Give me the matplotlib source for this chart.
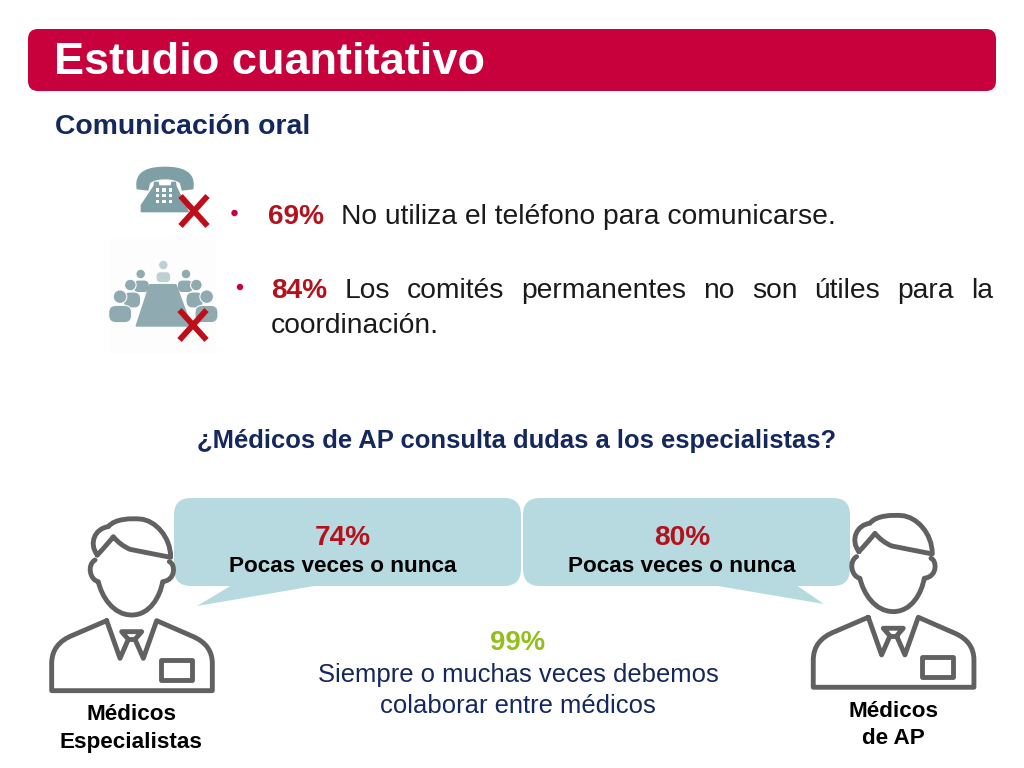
import matplotlib
matplotlib.use("Agg")
import matplotlib.pyplot as plt
from matplotlib.path import Path
from matplotlib.patches import PathPatch, FancyBboxPatch, Polygon, Rectangle, Circle

plt.rcParams['font.family'] = ['Liberation Sans', 'DejaVu Sans']

TITLE = "Estudio cuantitativo"
SUBTITLE = "Comunicación oral"
QUESTION = "¿Médicos de AP consulta dudas a los especialistas?"
PCT_PHONE = "69%"
TXT_PHONE = "No utiliza el teléfono para comunicarse."
PCT_COMM = "84%"
TXT_COMM_1 = ["Los", "comités", "permanentes", "no", "son", "útiles", "para", "la"]
TXT_COMM_2 = "coordinación."
BUBBLE_PCTS = ["74%", "80%"]
BUBBLE_TXT = "Pocas veces o nunca"
SHARED_PCT = "99%"
SHARED_TXT = ["Siempre o muchas veces debemos", "colaborar entre médicos"]
PERSON_LEFT = ["Médicos", "Especialistas"]
PERSON_RIGHT = ["Médicos", "de AP"]

CRIMSON = "#C8003C"
NAVY = "#14285E"
DKRED = "#B3121D"
XRED = "#C00D1A"
BUB = "#B7DAE0"
GREEN = "#94BF1A"
ICON = "#7F9FA6"
ICON2 = "#8FAAB0"
GREY = "#616161"
PAPER = "#FDFDFD"

fig = plt.figure(figsize=(10.24, 7.68), dpi=100)
ax = fig.add_axes([0, 0, 1, 1])
ax.set_xlim(0, 1024)
ax.set_ylim(768, 0)
ax.axis("off")


def fs(px):
    return px * 0.72


def T(x, y, s, px, color="black", weight="normal", ha="left", va="baseline"):
    return ax.text(x, y, s, fontsize=fs(px), color=color, fontweight=weight, ha=ha, va=va)


def rrect(x0, y0, x1, y1, r, color, z=1, ec="none", lw=0):
    p = FancyBboxPatch((x0 + r, y0 + r), x1 - x0 - 2 * r, y1 - y0 - 2 * r,
                       boxstyle=f"round,pad={r},rounding_size={r}",
                       fc=color, ec=ec, lw=lw, zorder=z)
    ax.add_patch(p)


# Banner
rrect(28, 29, 996, 91, 10, CRIMSON)
T(54, 74, TITLE, 45.2, "white", "bold")
T(55, 134, SUBTITLE, 28.4, NAVY, "bold")


def Z1(x, y):
    return (100 + x / 3, 150 + y / 3)


M, L, C3, C4, CL = Path.MOVETO, Path.LINETO, Path.CURVE3, Path.CURVE4, Path.CLOSEPOLY

# Phone icon
hs = [(110, 118), (100, 60), (150, 50), (195, 50), (240, 50), (290, 60), (280, 118), (245, 122),
      (240, 100), (225, 84), (165, 84), (150, 100), (145, 122), (110, 118)]
hc = [M, C4, C4, C4, C4, C4, C4, L, L, C4, C4, C4, L, L]
ax.add_patch(PathPatch(Path([Z1(*q) for q in hs], hc), fc=ICON, ec="none", zorder=2))
ax.add_patch(Polygon([Z1(160, 108), Z1(162, 95), Z1(176, 95), Z1(178, 106), Z1(212, 106), Z1(214, 95),
                      Z1(228, 95), Z1(230, 108), Z1(268, 187), Z1(122, 187), Z1(122, 165)],
                     fc=ICON, ec="none", zorder=2))
for yy in (120, 137, 155):
    for xx in (173, 192, 212):
        cx, cy = Z1(xx, yy)
        ax.add_patch(Rectangle((cx - 1.7, cy - 1.7), 3.4, 3.4, fc="white", ec="none", zorder=3))

# Committee icon
ax.add_patch(Rectangle(Z1(28, 268), 107, 115, fc=PAPER, ec="none", zorder=1))


def bust(hx, hy, r, bx0, by0, bx1, by1, col, z):
    cx, cy = Z1(hx, hy)
    a, b = Z1(bx0, by0), Z1(bx1, by1)
    rad = min(b[0] - a[0], b[1] - a[1]) * 0.42
    rrect(a[0], a[1], b[0], b[1], rad, col, z=z, ec=PAPER, lw=0.8)
    ax.add_patch(Circle((cx, cy), r, fc=col, ec=PAPER, lw=0.8, zorder=z + 0.1))


bust(190, 345, 4.8, 168, 365, 212, 398, "#BFD0D4", 2)
for side in (1, -1):
    mx = lambda x: 190 + side * (x - 190)
    bxa, bxb = sorted((mx(100), mx(148)))
    bust(mx(122), 372, 4.8, bxa, 390, bxb, 428, ICON2, 2)
    bxa, bxb = sorted((mx(70), mx(122)))
    bust(mx(91), 405, 5.8, bxa, 426, bxb, 474, ICON2, 2.2)
    bxa, bxb = sorted((mx(26), mx(95)))
    bust(mx(60), 440, 6.8, bxa, 466, bxb, 518, ICON2, 2.4)

ax.add_patch(Polygon([Z1(150, 405), Z1(227, 405), Z1(272, 527), Z1(110, 527)], fc=ICON2, ec=ICON2,
                     joinstyle="round", lw=1.5, zorder=3))

# Red crosses
for cx, cy in [(194, 211), (193, 325)]:
    for sgn in (1, -1):
        ax.plot([cx - 13.5, cx + 13.5], [cy - sgn * 15, cy + sgn * 15], color=XRED, lw=4.2,
                solid_capstyle="butt", zorder=5)

# Bullets
ax.add_patch(Circle((234.5, 213), 3.2, fc=CRIMSON, ec="none"))
ax.add_patch(Circle((240, 287), 3.2, fc=CRIMSON, ec="none"))

T(268, 224, PCT_PHONE, 28, DKRED, "bold")
T(341, 224, TXT_PHONE, 28.3, "#1A1A1A")

# Justified line
fig.canvas.draw()
r = fig.canvas.get_renderer()
x_left, x_right, y_line = 271, 993, 298
items = [T(x_left, y_line, PCT_COMM, 28, DKRED, "bold")]
items += [T(x_left, y_line, w, 28.3, "#1A1A1A") for w in TXT_COMM_1]
widths = [t.get_window_extent(r).width for t in items]
gap = (x_right - x_left - sum(widths)) / (len(items) - 1)
x = x_left
for t, w in zip(items, widths):
    t.set_x(x)
    x += w + gap
T(271, 333, TXT_COMM_2, 28.3, "#1A1A1A")

T(516.5, 448, QUESTION, 25.6, NAVY, "bold", ha="center")

# Speech bubbles
rrect(174, 498, 521, 586, 17, BUB)
rrect(523, 498, 850, 586, 17, BUB)
ax.add_patch(Polygon([(232, 585), (197, 606), (320, 585)], fc=BUB, ec="none"))
ax.add_patch(Polygon([(712, 585), (824, 604), (796, 585)], fc=BUB, ec="none"))

for cx, pct in zip((343, 682), BUBBLE_PCTS):
    T(cx, 545, pct, 28, DKRED, "bold", ha="center")
    T(cx, 572, BUBBLE_TXT, 22.5, "black", "bold", ha="center")

T(518, 650, SHARED_PCT, 27.5, GREEN, "bold", ha="center")
T(518, 682, SHARED_TXT[0], 25.6, NAVY, ha="center")
T(518, 713, SHARED_TXT[1], 25.6, NAVY, ha="center")


# Person icon; shape coordinates are in 3x pixels relative to (ox, oy)
def person(ox, oy):
    P = lambda x, y: (ox + x / 3, oy + y / 3)
    kw = dict(fc="none", ec=GREY, lw=3.5, joinstyle="round", capstyle="round", zorder=4)
    # Body
    v = [(200, 362), (100, 405), (35, 430), (35, 490), (35, 572), (517, 572), (517, 490),
         (517, 435), (460, 410), (350, 362), (310, 475)]
    c = [M, L, C3, C3, L, L, L, C3, C3, L, L]
    v += [(285, 418), (305, 395), (245, 395), (265, 418), (240, 475), (200, 362)]
    c += [L, L, L, L, L, L]
    ax.add_patch(PathPatch(Path([P(*q) for q in v], c), **kw))
    ax.add_patch(PathPatch(Path([P(265, 418), P(285, 418)], [M, L]), **kw))
    # Badge
    ax.add_patch(Rectangle(P(362, 480), 93 / 3, 60 / 3, **kw))
    # Hair
    v = [(172, 165), (145, 130), (165, 85), (205, 80), (225, 55), (275, 55), (300, 57),
         (345, 60), (392, 110), (392, 172), (330, 160), (270, 148), (240, 135), (220, 110),
         (205, 130), (172, 165)]
    c = [M, C4, C4, C4, C4, C4, C4, C4, C4, C4, C3, C3, C3, C3, C3, C3]
    ax.add_patch(PathPatch(Path([P(*q) for q in v], c), **kw))
    # Face and ears
    v = [(165, 180), (140, 195), (150, 240), (175, 245), (185, 290), (220, 345), (275, 345),
         (330, 345), (360, 290), (368, 245), (410, 240), (405, 190), (388, 185)]
    c = [M, C4, C4, C4, C4, C4, C4, C4, C4, C4, C4, C4, C4]
    ax.add_patch(PathPatch(Path([P(*q) for q in v], c), **kw))


person(40, 500)
person(801.6, 496.6)

T(131, 720, PERSON_LEFT[0], 22.5, "black", "bold", ha="center")
T(131, 748, PERSON_LEFT[1], 22.5, "black", "bold", ha="center")
T(893, 717, PERSON_RIGHT[0], 22.5, "black", "bold", ha="center")
T(893, 744, PERSON_RIGHT[1], 22.5, "black", "bold", ha="center")

fig.savefig("out.png", dpi=100, facecolor="white")
